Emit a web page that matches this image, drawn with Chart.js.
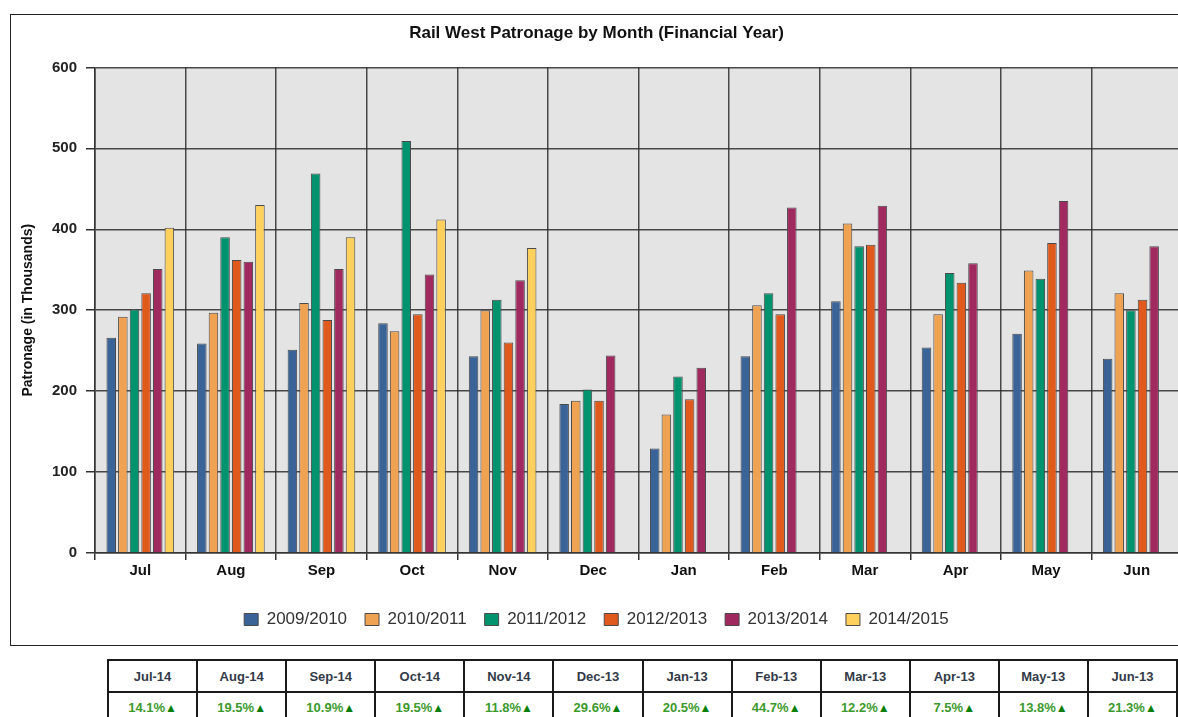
<!DOCTYPE html>
<html>
<head>
<meta charset="utf-8">
<script src="https://cdn.jsdelivr.net/npm/chart.js@4/dist/chart.umd.min.js"></script>
<style>
    html, body { margin: 0; padding: 0; background: #fff; overflow: hidden; width: 1178px; height: 717px; }
    #frame { position: absolute; left: 10px; top: 14px; width: 1200px; height: 630px; border: 1.5px solid #222; }
    #chartWrap { position: absolute; left: 0; top: 0; width: 1182px; height: 630px; }
    #summary { position: absolute; left: 107px; top: 659px; border-collapse: collapse; table-layout: fixed;
               font-family: 'Liberation Sans', Arial, sans-serif; font-weight: bold; font-size: 13px; }
    #summary td { width: 88px; border: 2px solid #1a1a1a; text-align: center; padding: 0; }
    #summary tr.head td { height: 30px; color: #333a48; }
    #summary tr.vals td { height: 28px; color: #3c9a2c; }
    #summary .up { color: #0a7f0a; font-size: 12px; }
</style>
</head>
<body>
<div id="frame"><div id="chartWrap"><canvas id="patronageChart"></canvas></div></div>
<table id="summary"><tr class="head"></tr><tr class="vals"></tr></table>
<script>
const months = ['Jul', 'Aug', 'Sep', 'Oct', 'Nov', 'Dec', 'Jan', 'Feb', 'Mar', 'Apr', 'May', 'Jun'];
const yearLabels = ['2009/2010', '2010/2011', '2011/2012', '2012/2013', '2013/2014', '2014/2015'];

// patronage in thousands
const fy0910 = [266, 259, 251, 284, 243, 184, 129, 243, 311, 254, 271, 240];
const fy1011 = [292, 297, 309, 274, 300, 188, 171, 306, 407, 295, 349, 321];
const fy1112 = [301, 390, 469, 509, 313, 202, 218, 321, 379, 346, 339, 300];
const fy1213 = [321, 362, 288, 295, 260, 188, 190, 295, 381, 334, 383, 313];
const fy1314 = [351, 360, 351, 344, 337, 244, 229, 427, 429, 358, 435, 379];
const fy1415 = [402, 430, 390, 412, 377, null, null, null, null, null, null, null];

const yTicks = [0, 100, 200, 300, 400, 500, 600];

// growth table under the chart
const tableMonths = ['Jul-14', 'Aug-14', 'Sep-14', 'Oct-14', 'Nov-14', 'Dec-13', 'Jan-13', 'Feb-13', 'Mar-13', 'Apr-13', 'May-13', 'Jun-13'];
const growthPct = [14.1, 19.5, 10.9, 19.5, 11.8, 29.6, 20.5, 44.7, 12.2, 7.5, 13.8, 21.3];

const seriesColors = ['#3a6398', '#f0a253', '#00936d', '#e05a1d', '#a0295f', '#ffd05c'];
const seriesData = [fy0910, fy1011, fy1112, fy1213, fy1314, fy1415];

const FONT = "'Liberation Sans', Arial, sans-serif";

// grey plot background
const plotBg = {
    id: 'plotBg',
    beforeDraw(chart) {
        const a = chart.chartArea;
        const ctx = chart.ctx;
        ctx.save();
        ctx.fillStyle = '#e4e4e4';
        ctx.fillRect(a.left, a.top, a.right - a.left, a.bottom - a.top);
        ctx.restore();
    }
};

const canvas = document.getElementById('patronageChart');
new Chart(canvas.getContext('2d'), {
    type: 'bar',
    data: {
        labels: months,
        datasets: yearLabels.map((label, i) => ({
            label: label,
            data: seriesData[i],
            backgroundColor: seriesColors[i],
            borderColor: '#4a4a4a',
            borderWidth: 1,
            categoryPercentage: 0.77,
            barPercentage: 0.82
        }))
    },
    options: {
        responsive: true,
        maintainAspectRatio: false,
        animation: false,
        layout: { padding: { left: 0, right: 11, top: 0, bottom: 7 } },
        plugins: {
            title: {
                display: true,
                text: 'Rail West Patronage by Month (Financial Year)',
                color: '#111',
                font: { family: FONT, size: 17, weight: 'bold' },
                padding: { top: 8, bottom: 24 }
            },
            legend: {
                position: 'bottom',
                labels: {
                    color: '#333',
                    font: { family: FONT, size: 17 },
                    boxWidth: 14,
                    boxHeight: 12,
                    padding: 18
                }
            },
            tooltip: { enabled: false }
        },
        scales: {
            x: {
                grid: { color: 'rgba(45,45,45,0.85)', lineWidth: 1.5, tickLength: 7, tickColor: '#333', offset: true },
                border: { color: '#333', width: 1.5 },
                ticks: { color: '#111', padding: 2, font: { family: FONT, size: 15, weight: 'bold' } },
                afterFit(s) { s.height = 40; }
            },
            y: {
                min: 0,
                max: 600,
                afterBuildTicks(s) { s.ticks = yTicks.map(v => ({ value: v })); },
                grid: { color: 'rgba(45,45,45,0.85)', lineWidth: 1.5, tickLength: 9, tickColor: '#333' },
                border: { color: '#333', width: 1.5 },
                ticks: { color: '#222', padding: 9, font: { family: FONT, size: 15, weight: 'bold' } },
                title: {
                    display: true,
                    text: 'Patronage (in Thousands)',
                    color: '#111',
                    font: { family: FONT, size: 14, weight: 'bold' },
                    padding: { top: 9, bottom: 0 }
                },
                afterFit(s) { s.width = 84; }
            }
        }
    },
    plugins: [plotBg]
});

// build the growth table from the arrays
const headRow = document.querySelector('#summary tr.head');
const valRow = document.querySelector('#summary tr.vals');
tableMonths.forEach((m, i) => {
    const th = document.createElement('td');
    th.textContent = m;
    headRow.appendChild(th);
    const td = document.createElement('td');
    td.innerHTML = growthPct[i].toFixed(1) + '%<span class="up">▲</span>';
    valRow.appendChild(td);
});
</script>
</body>
</html>
